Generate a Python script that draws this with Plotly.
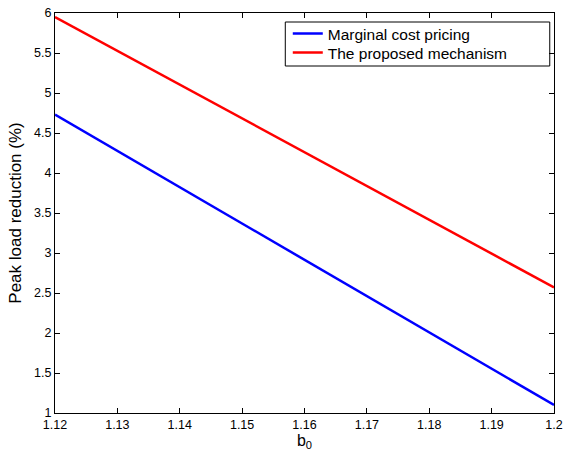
import plotly.graph_objects as go

b0 = [1.12, 1.20]
marginal = [4.73, 1.10]
proposed = [5.95, 2.57]
series_names = ["Marginal cost pricing", "The proposed mechanism"]
x_ticks = [1.12, 1.13, 1.14, 1.15, 1.16, 1.17, 1.18, 1.19, 1.2]
x_labels = ["1.12", "1.13", "1.14", "1.15", "1.16", "1.17", "1.18", "1.19", "1.2"]
y_ticks = [1, 1.5, 2, 2.5, 3, 3.5, 4, 4.5, 5, 5.5, 6]
y_labels = ["1", "1.5", "2", "2.5", "3", "3.5", "4", "4.5", "5", "5.5", "6"]

FONT = "Liberation Sans, Arial, Helvetica"

fig = go.Figure()
fig.add_trace(go.Scatter(x=b0, y=marginal, mode="lines", name=series_names[0],
                         line=dict(color="#0000ff", width=2.5), legend="legend"))
fig.add_trace(go.Scatter(x=b0, y=proposed, mode="lines", name=series_names[1],
                         line=dict(color="#ff0000", width=2.5), legend="legend2"))

axis_common = dict(showgrid=False, zeroline=False, showline=True, linecolor="black",
                   linewidth=1, mirror="ticks", ticks="inside", ticklen=5,
                   tickcolor="black", ticklabeloverflow="allow", automargin=False,
                   tickfont=dict(family=FONT, size=12.5, color="black"))

leg_common = dict(x=0.4665, xanchor="left", yanchor="middle",
                  borderwidth=0, bgcolor="rgba(0,0,0,0)",
                  font=dict(family=FONT, size=15.5), itemwidth=30)

fig.update_layout(
    width=564, height=454,
    margin=dict(l=55, r=10, t=13, b=41, autoexpand=False),
    paper_bgcolor="white", plot_bgcolor="white",
    font=dict(family=FONT, color="black"),
    xaxis=dict(range=[1.12, 1.2], tickvals=x_ticks, ticktext=x_labels,
               title=dict(text="b<sub>0</sub>", font=dict(size=16), standoff=2), **axis_common),
    yaxis=dict(range=[1, 6], tickvals=y_ticks, ticktext=y_labels,
               title=dict(text="Peak load reduction (%)", font=dict(size=17), standoff=8), **axis_common),
    legend=dict(y=0.9475, **leg_common),
    legend2=dict(y=0.900, **leg_common),
    showlegend=True,
    shapes=[dict(type="rect", xref="paper", yref="paper",
                 x0=0.4615, x1=0.9915, y0=0.8675, y1=0.9775,
                 line=dict(color="black", width=1), fillcolor="white", layer="below")],
)

fig.write_html("out.html", config={"displayModeBar": False},
               post_script="document.body.style.margin='0';document.body.style.overflow='hidden';")
